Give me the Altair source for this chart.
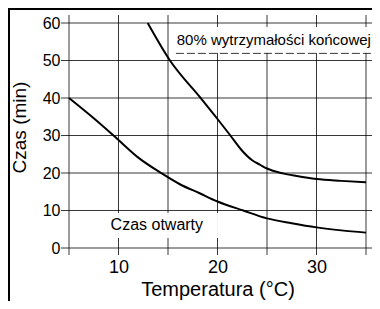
import altair as alt
import pandas as pd

# ---- data ----
upper_T = [12.95, 15.2, 18.3, 20.0, 21.3, 22.4, 23.5, 24.3, 25.0, 26.6, 28.0, 30.0, 32.5, 35.0]
upper_v = [60.0, 50.0, 40.0, 34.4, 30.0, 26.2, 23.4, 22.2, 21.2, 19.9, 19.2, 18.4, 17.9, 17.5]
lower_T = [5.0, 7.5, 9.5, 12.1, 14.3, 16.2, 18.2, 20.0, 22.6, 25.0, 27.5, 30.0, 32.5, 35.0]
lower_v = [40.0, 34.6, 30.0, 23.9, 20.0, 17.0, 14.6, 12.4, 10.0, 7.9, 6.6, 5.5, 4.7, 4.1]
x_ticks = [5, 10, 15, 20, 25, 30, 35]
x_labels = [10, 20, 30]
y_ticks = [0, 10, 20, 30, 40, 50, 60]
label_upper = "80% wytrzymałości końcowej"
label_lower = "Czas otwarty"
x_title = "Temperatura (°C)"
y_title = "Czas (min)"

FONT = "Liberation Sans"
W, H = 297, 225

curves = pd.DataFrame({
    "T": upper_T + lower_T,
    "v": upper_v + lower_v,
    "s": ["upper"] * len(upper_T) + ["lower"] * len(lower_T),
})
one = pd.DataFrame({"a": [0]})

# white label backgrounds, drawn as thick white strokes (annotation, data units)
masks = pd.DataFrame({
    "x1": [15.5, 8.6], "x2": [37.5, 20.8],
    "y": [55.45, 6.0], "w": [26, 25],
})
dash = pd.DataFrame({"x1": [15.8], "x2": [37.5], "y": [51.9]})
labels = pd.DataFrame({
    "x": [15.88, 9.2], "y": [54.1, 4.8],
    "t": [label_upper, label_lower], "fs": [15, 16],
})

xscale = alt.Scale(domain=[5, 35], nice=False, zero=False)
yscale = alt.Scale(domain=[0, 60], nice=False, zero=False)

xaxis = alt.Axis(
    values=x_labels, grid=False, domain=False, ticks=False, labelOverlap=False,
    labelFont=FONT, labelFontSize=18, labelColor="black", labelPadding=10,
    title=x_title, titleFont=FONT, titleFontSize=20, titleFontWeight="normal",
    titleColor="black", titleX=W / 2, titleY=47, titleAlign="center",
    titleBaseline="alphabetic",
)
yaxis = alt.Axis(
    values=y_ticks, grid=False, domain=False, ticks=False, labelOverlap=False,
    labelFont=FONT, labelFontSize=16, labelColor="black", labelPadding=9,
    title=y_title, titleFont=FONT, titleFontSize=19, titleFontWeight="normal",
    titleColor="black", titleAngle=270, titleX=-44, titleY=104,
    titleAlign="center", titleBaseline="alphabetic",
)


def X(field):
    return alt.X(field, scale=xscale, axis=xaxis)


def Y(field):
    return alt.Y(field, scale=yscale, axis=yaxis)


# grid lines (they run past the plot edges as tick marks on all four sides)
vgrid = alt.Chart(pd.DataFrame({"T": x_ticks})).mark_rule(
    color="black", strokeOpacity=0.78, strokeWidth=1
).encode(x=X("T:Q"), y=alt.value(-8), y2=alt.value(H + 7))

hgrid = alt.Chart(pd.DataFrame({"v": y_ticks})).mark_rule(
    color="black", strokeOpacity=0.78, strokeWidth=1
).encode(y=Y("v:Q"), x=alt.value(-8), x2=alt.value(W + 7))

mask_layer = alt.Chart(masks).mark_rule(color="white", opacity=0.95).encode(
    x=X("x1:Q"), x2="x2:Q", y=Y("y:Q"),
    size=alt.Size("w:Q", scale=None, legend=None),
)
dash_layer = alt.Chart(dash).mark_rule(
    color="black", strokeOpacity=0.78, strokeWidth=1, strokeDash=[8, 3]
).encode(x=X("x1:Q"), x2="x2:Q", y=Y("y:Q"))

text_layer = alt.Chart(labels).mark_text(
    align="left", baseline="alphabetic", font=FONT, color="black"
).encode(
    x=X("x:Q"), y=Y("y:Q"), text="t:N",
    size=alt.Size("fs:Q", scale=None, legend=None),
)

lines = alt.Chart(curves).mark_line(
    color="black", strokeWidth=2, interpolate="monotone"
).encode(x=X("T:Q"), y=Y("v:Q"), detail="s:N")

frame_left = alt.Chart(one).mark_rule(color="black", strokeWidth=2).encode(
    x=alt.value(-60), y=alt.value(-20), y2=alt.value(H + 80)
)
frame_top = alt.Chart(one).mark_rule(color="black", strokeWidth=2).encode(
    y=alt.value(-14), x=alt.value(-70), x2=alt.value(W + 20)
)

chart = alt.layer(
    vgrid, hgrid, mask_layer, dash_layer, text_layer, lines, frame_left, frame_top,
).properties(
    width=W, height=H,
    padding={"left": 61, "top": 15, "right": 6, "bottom": 53},
    autosize=alt.AutoSizeParams(type="none"),
    background="white",
).configure_view(stroke=None)

chart.save("out.html", embed_options={"renderer": "svg", "actions": False})
